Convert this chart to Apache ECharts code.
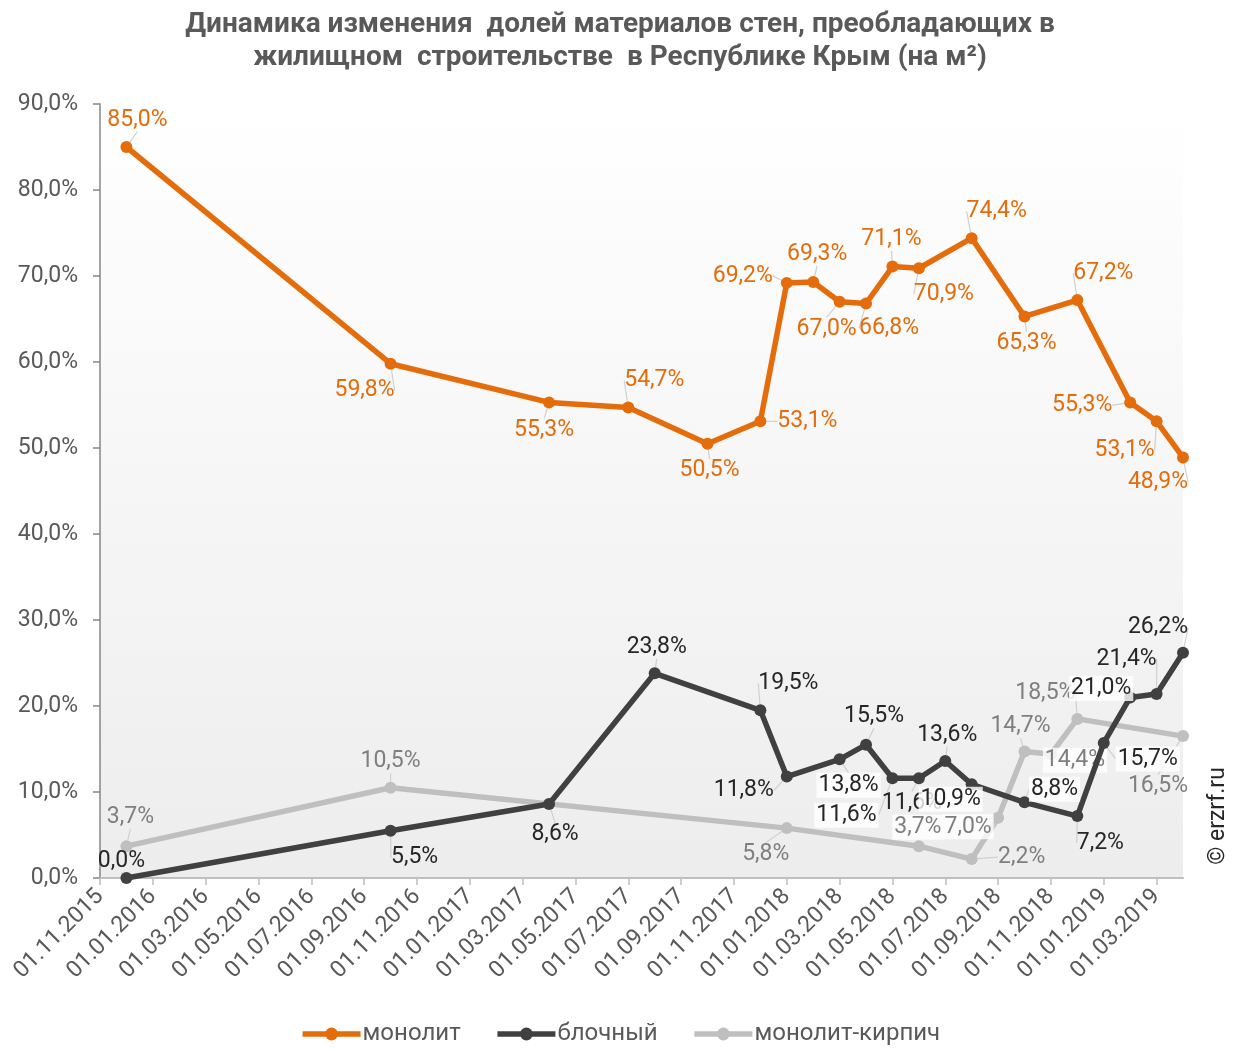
<!DOCTYPE html>
<html>
<head>
<meta charset="utf-8">
<script src="https://cdn.jsdelivr.net/npm/echarts@6/dist/echarts.min.js"></script>
<style>
  html, body { margin: 0; padding: 0; background: #fff; }
  #chart { width: 1240px; height: 1051px; }
</style>
</head>
<body>
<div id="chart"></div>
<script>
// dates of the observations (dd.mm.yyyy)
const dates = ['01.12.2015', '01.10.2016', '01.04.2017', '01.07.2017', '01.08.2017', '01.10.2017',
  '01.12.2017', '01.01.2018', '01.02.2018', '01.03.2018', '01.04.2018', '01.05.2018', '01.06.2018',
  '01.07.2018', '01.08.2018', '01.09.2018', '01.10.2018', '01.11.2018', '01.12.2018', '01.01.2019',
  '01.02.2019', '01.03.2019', '01.04.2019']

// shares, % (null = no value for that date)
const monolit = [85.0, 59.8, 55.3, 54.7, null, 50.5, 53.1, 69.2, 69.3, 67.0, 66.8, 71.1, 70.9,
  null, 74.4, null, 65.3, null, 67.2, null, 55.3, 53.1, 48.9]
const blochny = [0.0, 5.5, 8.6, null, 23.8, null, 19.5, 11.8, null, 13.8, 15.5, 11.6, 11.6,
  13.6, 10.9, null, 8.8, null, 7.2, 15.7, 21.0, 21.4, 26.2]
const monolitKirpich = [3.7, 10.5, null, null, null, null, null, 5.8, null, null, null, null, 3.7,
  null, 2.2, 7.0, 14.7, 14.4, 18.5, null, null, null, 16.5]

const seriesNames = ['монолит', 'блочный', 'монолит-кирпич']

const xTickLabels = ['01.11.2015', '01.01.2016', '01.03.2016', '01.05.2016', '01.07.2016',
  '01.09.2016', '01.11.2016', '01.01.2017', '01.03.2017', '01.05.2017', '01.07.2017', '01.09.2017',
  '01.11.2017', '01.01.2018', '01.03.2018', '01.05.2018', '01.07.2018', '01.09.2018', '01.11.2018',
  '01.01.2019', '01.03.2019']

// where each data label sits, relative to its point
const monolitLabelOffsets = [[11, -27], [-26, 27], [-5, 28], [26, -27], null, [2, 27], [47, 0],
  [-44, -7], [4, -28], [-13, 27], [23, 25], [-1, -27], [25, 26], null, [25, -27], null, [2, 27],
  null, [26, -27], null, [-48, 3], [-32, 29], [-25, 25]]
const blochnyLabelOffsets = [[-5, -17], [24, 27], [6, 30], null, [2, -26], null, [28, -27],
  [-43, 14], null, [9, 26], [8, -28], [-46, 37], [-7, 25], [2, -26], [-21, 15], null, [30, -13],
  null, [23, 27], [44, 16], [-29, -9], [-30, -35], [-25, -25]]
const kirpichLabelOffsets = [[4, -29], [0, -26], null, null, null, null, null, [-21, 26], null,
  null, null, null, [-1, -19], null, [50, -2], [-30, 9], [-4, -25], [24, 6], [-32, -26], null,
  null, null, [-25, 50]]
// labels drawn on a white box
const blochnyBoxed = [9, 11, 14, 16, 19, 20]
const kirpichBoxed = [12, 15, 17]

const monthIndex = (d) => {
  const [, mm, yy] = d.split('.').map(Number)
  return (yy - 2015) * 12 + (mm - 11)
}
const pct = (v) => v.toFixed(1).replace('.', ',') + '%'
const FONT = 'Roboto, "Noto Sans", sans-serif'

const buildData = (values, boxed) => dates.map((d, i) => {
  const item = { value: [monthIndex(d), values[i] == null ? '-' : values[i]] }
  if (boxed.includes(i)) {
    item.label = { backgroundColor: 'rgba(255,255,255,0.8)', padding: [1, 2] }
  }
  return item
})

const makeSeries = (name, values, color, labelColor, offsets, boxed, z) => ({
  name,
  type: 'line',
  z,
  data: buildData(values, boxed),
  connectNulls: true,
  symbol: 'circle',
  symbolSize: 12,
  showAllSymbol: true,
  lineStyle: { color, width: 5.5 },
  itemStyle: { color },
  label: {
    show: true,
    position: 'inside',
    color: labelColor,
    fontSize: 23,
    fontFamily: FONT,
    formatter: (p) => pct(p.value[1])
  },
  labelLine: { show: true, lineStyle: { color: '#d0d0d0', width: 1.2 } },
  labelLayout: (p) => {
    const o = offsets[p.dataIndex] || [0, 0]
    return { dx: o[0], dy: o[1] }
  },
  emphasis: { disabled: true }
})

const chart = echarts.init(document.getElementById('chart'))
const xTicks = xTickLabels.map(monthIndex)

chart.setOption({
  animation: false,
  backgroundColor: '#fff',
  title: {
    text: 'Динамика изменения  долей материалов стен, преобладающих в\nжилищном  строительстве  в Республике Крым (на м²)',
    left: 'center',
    top: 3,
    textStyle: { fontSize: 28, fontWeight: 'bold', color: '#595959', fontFamily: FONT, lineHeight: 33 }
  },
  grid: {
    left: 100, right: 57, top: 104, bottom: 173,
    show: true,
    borderWidth: 0,
    backgroundColor: new echarts.graphic.LinearGradient(0, 0, 0, 1, [
      { offset: 0, color: '#ffffff' },
      { offset: 1, color: '#ededed' }
    ])
  },
  legend: {
    bottom: 0,
    left: 'center',
    data: seriesNames,
    itemWidth: 58,
    itemHeight: 16,
    itemGap: 34,
    selectedMode: false,
    lineStyle: { width: 5.5 },
    textStyle: { fontSize: 24, color: '#595959', fontFamily: FONT, padding: [0, 0, 0, -3] }
  },
  xAxis: {
    type: 'value',
    min: 0,
    max: 41,
    interval: 2,
    splitLine: { show: false },
    axisLine: { lineStyle: { color: '#bfbfbf', width: 2 } },
    axisTick: { customValues: xTicks, length: 7, lineStyle: { color: '#bfbfbf', width: 1.5 } },
    axisLabel: {
      customValues: xTicks,
      rotate: 45,
      margin: 15,
      fontSize: 23,
      color: '#595959',
      fontFamily: FONT,
      formatter: (v) => xTickLabels[xTicks.indexOf(v)] || ''
    }
  },
  yAxis: {
    type: 'value',
    min: 0,
    max: 90,
    interval: 10,
    splitLine: { show: false },
    axisLine: { show: true, lineStyle: { color: '#868686', width: 1.5 } },
    axisTick: { show: true, length: 7, lineStyle: { color: '#868686', width: 1.5 } },
    axisLabel: { margin: 22, fontSize: 23, color: '#595959', fontFamily: FONT, formatter: pct }
  },
  series: [
    makeSeries(seriesNames[0], monolit, '#e46c0a', '#e46c0a', monolitLabelOffsets, [], 2),
    makeSeries(seriesNames[1], blochny, '#404040', '#262626', blochnyLabelOffsets, blochnyBoxed, 4),
    makeSeries(seriesNames[2], monolitKirpich, '#bfbfbf', '#7f7f7f', kirpichLabelOffsets, kirpichBoxed, 3)
  ],
  graphic: [{
    type: 'text',
    x: 1218,
    y: 816,
    rotation: Math.PI / 2,
    style: { text: '© erzrf.ru', fontSize: 23, fill: '#262626', fontFamily: FONT, align: 'center', verticalAlign: 'middle' }
  }]
})
</script>
</body>
</html>
